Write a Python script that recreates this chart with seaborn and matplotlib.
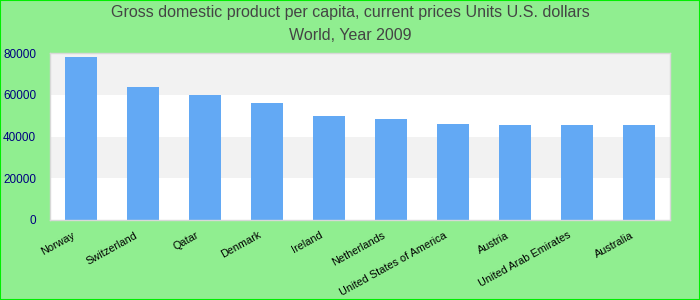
import matplotlib
matplotlib.use("Agg")
import matplotlib.pyplot as plt
import matplotlib.transforms as mtransforms
import seaborn as sns
import pandas as pd

countries = ["Norway", "Switzerland", "Qatar", "Denmark", "Ireland", "Netherlands",
             "United States of America", "Austria", "United Arab Emirates", "Australia"]
gdp = [78200, 63800, 60000, 56100, 49900, 48400, 46000, 45600, 45500, 45500]
yticks = [0, 20000, 40000, 60000, 80000]

df = pd.DataFrame({"country": countries, "gdp": gdp})

sns.set_theme(style="white")
plt.rcParams["font.family"] = ["Liberation Sans", "DejaVu Sans"]

fig = plt.figure(figsize=(7, 3), dpi=100, facecolor="#90ee90")
ax = fig.add_axes([50 / 700, 1 - 220 / 300, 620 / 700, 167 / 300])
ax.set_facecolor("white")

# alternating bands
for lo, hi in [(20000, 40000), (60000, 80000)]:
    ax.axhspan(lo, hi, color="#f2f2f2", zorder=0, linewidth=0)

sns.barplot(data=df, x="country", y="gdp", color="#63a9f4", saturation=1,
            width=0.52, ax=ax, zorder=2, linewidth=0, edgecolor="none")

ax.set_xlim(-0.5, len(countries) - 0.5)
ax.set_ylim(0, 80000)
ax.set_yticks(yticks)
ax.set_yticklabels([str(v) for v in yticks], color="#000080", fontsize=8.5)
ax.tick_params(axis="y", length=0, pad=10)
ax.tick_params(axis="x", length=0, pad=0)
offset = mtransforms.ScaledTranslation(-9 / 100, -10 / 100, fig.dpi_scale_trans)
for lab in ax.get_xticklabels():
    lab.set_rotation(29)
    lab.set_ha("right")
    lab.set_va("top")
    lab.set_rotation_mode("anchor")
    lab.set_fontsize(7.8)
    lab.set_color("black")
    lab.set_transform(lab.get_transform() + offset)
ax.set_xlabel("")
ax.set_ylabel("")
for s in ax.spines.values():
    s.set_color("#d8d8d8")
    s.set_linewidth(1)

fig.text(0.5, 1 - 13 / 300, "Gross domestic product per capita, current prices Units U.S. dollars",
         ha="center", va="center", fontsize=11.5, color="#444444")
fig.text(0.5, 1 - 36 / 300, "World, Year 2009",
         ha="center", va="center", fontsize=11.5, color="#444444")

# figure border
fig.patches.append(plt.Rectangle((0, 0), 1, 1, transform=fig.transFigure, fill=False,
                                 edgecolor="#00ee00", linewidth=1.5))

fig.savefig("out.png", dpi=100, facecolor=fig.get_facecolor())
